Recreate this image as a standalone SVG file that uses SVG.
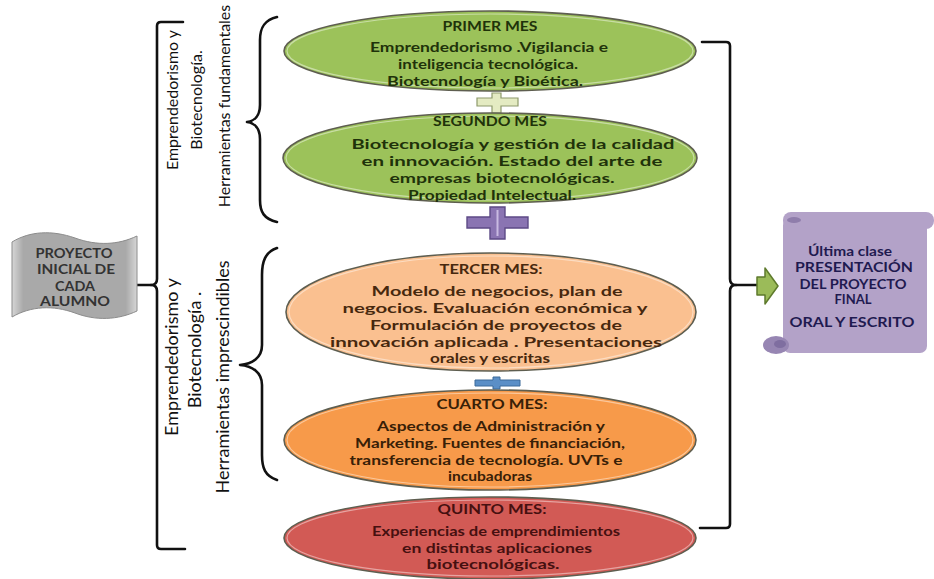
<svg xmlns="http://www.w3.org/2000/svg" width="934" height="579" viewBox="0 0 934 579">
  <style>
    .bold { font-family: Lato, "Open Sans", "Liberation Sans", sans-serif; font-weight: 700; text-anchor: middle; }
    .side { font-family: Lato, "Open Sans", "Liberation Sans", sans-serif; font-weight: 400; text-anchor: middle; fill: #111; }
    .line { fill: none; stroke: #111; stroke-width: 2.6; stroke-linejoin: round; stroke-linecap: round; }
    .oval { stroke: #5e5e50; stroke-width: 1.6; }
    .glow { fill: none; stroke: #ffffff; stroke-opacity: 0.45; stroke-width: 1.2; }
    .t-green { fill: #1f320a; font-size: 14px; }
    .t-peach { fill: #47280e; font-size: 14px; }
    .t-orange { fill: #382007; font-size: 14px; }
    .t-red { fill: #461010; font-size: 14px; }
    .t-purple { fill: #1f1a50; font-size: 13px; }
    .t-gray { fill: #333333; font-size: 13px; }
  </style>
  <defs>
    <linearGradient id="waveFill" x1="0" y1="0" x2="1" y2="0">
      <stop offset="0" stop-color="#d6d6d6"/>
      <stop offset="0.09" stop-color="#a9a9a9"/>
      <stop offset="0.91" stop-color="#a9a9a9"/>
      <stop offset="1" stop-color="#d6d6d6"/>
    </linearGradient>
  </defs>

  <rect width="934" height="579" fill="#ffffff"/>

  <!-- connectors: brackets, braces and links -->
  <g id="connectors">
    <!-- left bracket with link from the start node -->
    <path class="line" d="M183,22 H161 Q157,22 157,26 V279 Q157,285 151,285 Q157,285 157,291 V545 Q157,549 161,549 H185"/>
    <path class="line" d="M137,285 H151"/>
    <!-- upper brace -->
    <path class="line" d="M277,17 C264,20 260,28 260,40 V105 C260,115 255,121 247,122 C255,123 260,129 260,139 V200 C260,212 264,219 277,222"/>
    <!-- lower brace -->
    <path class="line" d="M277,248 C265,252 262,262 262,275 V345 C262,358 252,364 240,365 C252,366 262,372 262,385 V455 C262,468 265,476 277,480"/>
    <!-- right bracket and link to the final node -->
    <path class="line" d="M702,42 H726 Q730,42 730,46 V279 Q730,285 736,285 Q730,285 730,291 V524 Q730,528 726,528 H700"/>
    <path class="line" d="M736,285 H758"/>
    <path d="M757,277 L765,277 L765,268 L778,286 L765,304 L765,295 L757,295 Z" fill="#9bbb59" stroke="#5e7a2c" stroke-width="1.5" stroke-linejoin="round"/>
  </g>

  <!-- starting project -->
  <g id="proyecto-inicial">
    <path d="M12,242 C30,231 52,230 75,238 C97,246 118,245 137,236 L137,311 C118,320 96,321 75,313 C53,305 31,306 12,317 Z" fill="url(#waveFill)" stroke="#8c8c8c" stroke-width="1"/>
    <text class="bold t-gray" x="74" y="258" textLength="77" lengthAdjust="spacingAndGlyphs">PROYECTO</text>
    <text class="bold t-gray" x="76" y="274" textLength="78" lengthAdjust="spacingAndGlyphs">INICIAL DE</text>
    <text class="bold t-gray" x="75" y="291" textLength="40" lengthAdjust="spacingAndGlyphs">CADA</text>
    <text class="bold t-gray" x="75" y="306" textLength="70" lengthAdjust="spacingAndGlyphs">ALUMNO</text>
  </g>

  <!-- side labels -->
  <g id="etiqueta-fundamentales">
    <text class="side" font-size="16" transform="translate(178,100) rotate(-90)">Emprendedorismo y</text>
    <text class="side" font-size="16" transform="translate(202,100) rotate(-90)">Biotecnología.</text>
    <text class="side" font-size="16" transform="translate(230,106) rotate(-90)">Herramientas fundamentales</text>
  </g>
  <g id="etiqueta-imprescindibles">
    <text class="side" font-size="18" transform="translate(178,357) rotate(-90)">Emprendedorismo y</text>
    <text class="side" font-size="18" transform="translate(201,350) rotate(-90)">Biotecnología .</text>
    <text class="side" font-size="18" transform="translate(229,377) rotate(-90)">Herramientas imprescindibles</text>
  </g>

  <!-- month 1 -->
  <g id="primer-mes">
    <ellipse class="oval" cx="490" cy="51" rx="206" ry="40" fill="#9cc25a"/>
    <ellipse class="glow" cx="490" cy="51" rx="203" ry="37"/>
    <text class="bold t-green" x="490" y="31" textLength="95" lengthAdjust="spacingAndGlyphs">PRIMER MES</text>
    <text class="bold t-green" x="489" y="52" textLength="238" lengthAdjust="spacingAndGlyphs">Emprendedorismo .Vigilancia e</text>
    <text class="bold t-green" x="488" y="69" textLength="180" lengthAdjust="spacingAndGlyphs">inteligencia tecnológica.</text>
    <text class="bold t-green" x="485" y="86" textLength="196" lengthAdjust="spacingAndGlyphs">Biotecnología y Bioética.</text>
  </g>

  <!-- link 1-2 -->
  <g id="enlace-1">
    <path d="M492,93 H501 V98 H518 V106 H501 V113 H492 V106 H477 V98 H492 Z" fill="#e4ebc2" stroke="#8e9a6c" stroke-width="1.2"/>
  </g>

  <!-- month 2 -->
  <g id="segundo-mes">
    <ellipse class="oval" cx="490" cy="158" rx="207" ry="45" fill="#9cc25a"/>
    <ellipse class="glow" cx="490" cy="158" rx="204" ry="42"/>
    <text class="bold t-green" x="490" y="126" textLength="114" lengthAdjust="spacingAndGlyphs">SEGUNDO MES</text>
    <text class="bold t-green" x="513" y="149" textLength="323" lengthAdjust="spacingAndGlyphs">Biotecnología y gestión de la calidad</text>
    <text class="bold t-green" x="512" y="166" textLength="301" lengthAdjust="spacingAndGlyphs">en innovación. Estado del arte de</text>
    <text class="bold t-green" x="502" y="183" textLength="225" lengthAdjust="spacingAndGlyphs">empresas biotecnológicas.</text>
    <text class="bold t-green" x="492" y="200" textLength="168" lengthAdjust="spacingAndGlyphs">Propiedad Intelectual.</text>
  </g>

  <!-- link 2-3 -->
  <g id="enlace-2">
    <path d="M490,207 H505 V217 H528 V228 H505 V239 H490 V228 H467 V217 H490 Z" fill="#8a74b2" stroke="#5d4a86" stroke-width="1.4"/>
    <path d="M497.5,210 V236" stroke="#d9ccef" stroke-width="2" opacity="0.8"/>
  </g>

  <!-- month 3 -->
  <g id="tercer-mes">
    <ellipse class="oval" cx="491" cy="312" rx="205" ry="59" fill="#fac090"/>
    <ellipse class="glow" cx="491" cy="312" rx="202" ry="56"/>
    <text class="bold t-peach" x="491" y="274" textLength="103" lengthAdjust="spacingAndGlyphs">TERCER MES:</text>
    <text class="bold t-peach" x="497" y="296" textLength="251" lengthAdjust="spacingAndGlyphs">Modelo de negocios, plan de</text>
    <text class="bold t-peach" x="495" y="313" textLength="305" lengthAdjust="spacingAndGlyphs">negocios. Evaluación  económica y</text>
    <text class="bold t-peach" x="496" y="330" textLength="252" lengthAdjust="spacingAndGlyphs">Formulación de proyectos de</text>
    <text class="bold t-peach" x="496" y="347" textLength="332" lengthAdjust="spacingAndGlyphs">innovación aplicada . Presentaciones</text>
    <text class="bold t-peach" x="490" y="363" textLength="120" lengthAdjust="spacingAndGlyphs">orales y escritas</text>
  </g>

  <!-- link 3-4 -->
  <g id="enlace-3">
    <path d="M493,377 H500 V380 H520 V386 H500 V389 H493 V386 H475 V380 H493 Z" fill="#5b8fc7" stroke="#3d6a9a" stroke-width="1"/>
  </g>

  <!-- month 4 -->
  <g id="cuarto-mes">
    <ellipse class="oval" cx="490" cy="440" rx="206" ry="50" fill="#f79a4a"/>
    <ellipse class="glow" cx="490" cy="440" rx="203" ry="47"/>
    <text class="bold t-orange" x="492" y="409" textLength="111" lengthAdjust="spacingAndGlyphs">CUARTO MES:</text>
    <text class="bold t-orange" x="491" y="431" textLength="228" lengthAdjust="spacingAndGlyphs">Aspectos de Administración y</text>
    <text class="bold t-orange" x="490" y="448" textLength="270" lengthAdjust="spacingAndGlyphs">Marketing. Fuentes de financiación,</text>
    <text class="bold t-orange" x="486" y="465" textLength="273" lengthAdjust="spacingAndGlyphs">transferencia de tecnología.   UVTs e</text>
    <text class="bold t-orange" x="490" y="481" textLength="84" lengthAdjust="spacingAndGlyphs">incubadoras</text>
  </g>

  <!-- month 5 -->
  <g id="quinto-mes">
    <ellipse class="oval" cx="490" cy="538" rx="206" ry="41" fill="#d25a55"/>
    <ellipse class="glow" cx="490" cy="538" rx="203" ry="38"/>
    <text class="bold t-red" x="492" y="514" textLength="109" lengthAdjust="spacingAndGlyphs">QUINTO MES:</text>
    <text class="bold t-red" x="496" y="536" textLength="248" lengthAdjust="spacingAndGlyphs">Experiencias de emprendimientos</text>
    <text class="bold t-red" x="497" y="553" textLength="190" lengthAdjust="spacingAndGlyphs">en distintas aplicaciones</text>
    <text class="bold t-red" x="493" y="569" textLength="133" lengthAdjust="spacingAndGlyphs">biotecnológicas.</text>
  </g>

  <!-- final presentation scroll -->
  <g id="presentacion-final">
    <rect x="783" y="212" width="151" height="17" rx="8" fill="#b3a2c8"/>
    <rect x="783" y="218" width="144" height="135" rx="7" fill="#b3a2c8"/>
    <ellipse cx="794" cy="220" rx="7" ry="3" fill="#8f7dab"/>
    <ellipse cx="776" cy="345" rx="13" ry="9" fill="#9786b3"/>
    <ellipse cx="780" cy="344" rx="6" ry="4" fill="#7f6ea0"/>
    <text class="bold t-purple" x="850" y="256" textLength="84" lengthAdjust="spacingAndGlyphs">Última clase</text>
    <text class="bold t-purple" x="854" y="272" textLength="118" lengthAdjust="spacingAndGlyphs">PRESENTACIÓN</text>
    <text class="bold t-purple" x="853" y="289" textLength="107" lengthAdjust="spacingAndGlyphs">DEL PROYECTO</text>
    <text class="bold t-purple" x="853" y="304" textLength="37" lengthAdjust="spacingAndGlyphs">FINAL</text>
    <text class="bold t-purple" x="852" y="327" textLength="125" lengthAdjust="spacingAndGlyphs">ORAL Y ESCRITO</text>
  </g>
</svg>
